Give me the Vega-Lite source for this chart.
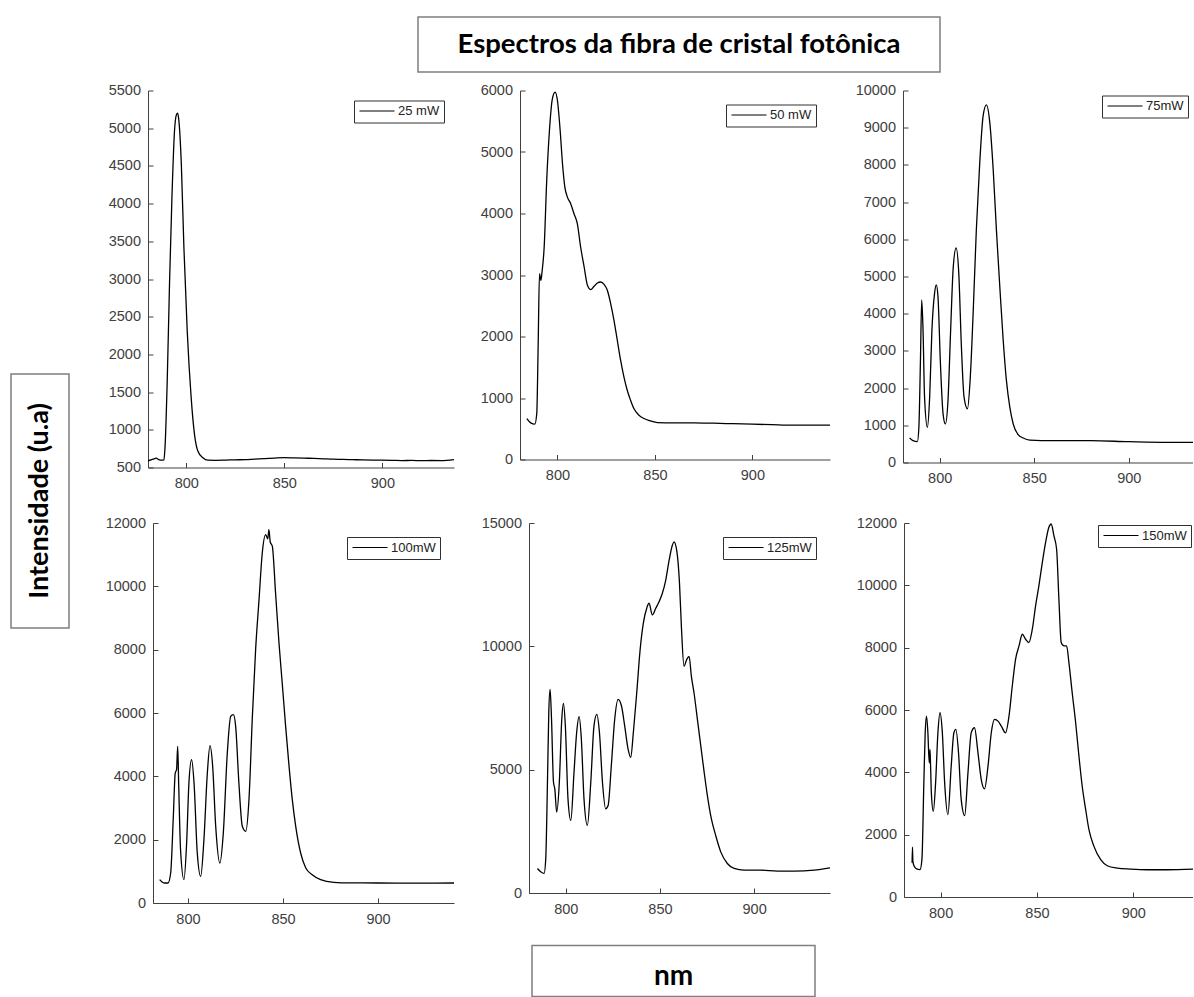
{
  "$schema": "https://vega.github.io/schema/vega-lite/v6.json",
  "padding": {"left": 10, "top": 16, "right": 0, "bottom": 0},
  "background": "white",
  "config": {
    "view": {"stroke": null},
    "axis": {"grid": false, "domainColor": "#404040", "tickColor": "#404040", "labelColor": "#404040", "labelFont": "Liberation Sans", "labelFontSize": 14.5, "tickSize": -5, "domainWidth": 1, "tickWidth": 1},
    "axisX": {"labelPadding": 14},
    "axisY": {"labelPadding": 12.5},
    "legend": {"orient": "top-right", "offset": 14, "padding": 4, "strokeColor": "#303030", "fillColor": "white", "symbolType": "M-1,0H6", "symbolSize": 100, "symbolStrokeWidth": 1.2, "labelFont": "Liberation Sans", "labelFontSize": 13, "labelColor": "#222222", "labelOffset": 27},
    "text": {"font": "Lato", "fontWeight": "bold", "color": "black"}
  },
  "datasets": {
    "p1": [
      {"x":780.5,"y":588},{"x":782,"y":600},{"x":783.5,"y":615},{"x":784.7,"y":624},{"x":786,"y":605},{"x":787.5,"y":597},{"x":788.6,"y":600},{"x":789.2,"y":780},{"x":790.3,"y":1650},{"x":791.5,"y":2970},{"x":792.7,"y":4080},{"x":794,"y":4960},{"x":795,"y":5180},{"x":795.6,"y":5200},{"x":796.2,"y":5110},{"x":797.5,"y":4520},{"x":798.8,"y":3420},{"x":800.5,"y":2310},{"x":802.5,"y":1430},{"x":804.2,"y":940},{"x":805.9,"y":720},{"x":808.5,"y":630},{"x":811,"y":597},{"x":815,"y":595},{"x":820,"y":598},{"x":825,"y":602},{"x":830,"y":605},{"x":835,"y":612},{"x":840,"y":618},{"x":845,"y":625},{"x":850,"y":630},{"x":855,"y":628},{"x":860,"y":625},{"x":865,"y":620},{"x":870,"y":615},{"x":875,"y":610},{"x":880,"y":608},{"x":885,"y":604},{"x":890,"y":600},{"x":895,"y":598},{"x":900,"y":597},{"x":905,"y":595},{"x":910,"y":592},{"x":915,"y":594},{"x":920,"y":590},{"x":925,"y":593},{"x":930,"y":592},{"x":936.5,"y":605}
    ],
    "p2": [
      {"x":784.3,"y":666},{"x":786.3,"y":596},{"x":788.4,"y":574},{"x":789.4,"y":747},{"x":790.1,"y":1830},{"x":790.8,"y":3022},{"x":791.5,"y":2913},{"x":792.1,"y":3050},{"x":793.2,"y":3455},{"x":794.5,"y":4538},{"x":795.9,"y":5350},{"x":797.4,"y":5865},{"x":798.8,"y":5973},{"x":800,"y":5837},{"x":801.4,"y":5350},{"x":802.6,"y":4809},{"x":803.8,"y":4430},{"x":805.1,"y":4267},{"x":806.8,"y":4159},{"x":808.5,"y":3996},{"x":810.2,"y":3834},{"x":811.9,"y":3455},{"x":813.7,"y":3130},{"x":815.4,"y":2832},{"x":817.1,"y":2762},{"x":818.8,"y":2816},{"x":820.5,"y":2870},{"x":822.2,"y":2886},{"x":823.9,"y":2848},{"x":825.6,"y":2751},{"x":827.3,"y":2534},{"x":829,"y":2264},{"x":830.7,"y":1939},{"x":832.4,"y":1614},{"x":834.1,"y":1343},{"x":835.8,"y":1126},{"x":837.5,"y":964},{"x":839.2,"y":829},{"x":841.8,"y":720},{"x":844.4,"y":666},{"x":847.8,"y":628},{"x":851.2,"y":601},{"x":860,"y":596},{"x":870,"y":596},{"x":880,"y":590},{"x":890,"y":582},{"x":900,"y":574},{"x":910,"y":566},{"x":920,"y":558},{"x":930,"y":558},{"x":939.8,"y":560}
    ],
    "p3": [
      {"x":784.1,"y":658},{"x":785.9,"y":586},{"x":788.2,"y":559},{"x":789,"y":946},{"x":789.8,"y":2658},{"x":790.5,"y":4369},{"x":791.2,"y":3559},{"x":792,"y":1757},{"x":793.5,"y":946},{"x":794.7,"y":1757},{"x":795.9,"y":3559},{"x":797.3,"y":4550},{"x":798.2,"y":4775},{"x":799.1,"y":4459},{"x":800.4,"y":2658},{"x":801.8,"y":1306},{"x":803,"y":1036},{"x":804.4,"y":1667},{"x":805.8,"y":3559},{"x":807.2,"y":5270},{"x":808.7,"y":5766},{"x":810.1,"y":5090},{"x":811.5,"y":3108},{"x":812.9,"y":1757},{"x":814.7,"y":1441},{"x":816.1,"y":2207},{"x":817.7,"y":4009},{"x":819.4,"y":6261},{"x":821.2,"y":8063},{"x":823,"y":9324},{"x":824.7,"y":9613},{"x":826.5,"y":9144},{"x":828.3,"y":7883},{"x":830,"y":6261},{"x":831.8,"y":4730},{"x":833.6,"y":3288},{"x":835.3,"y":2207},{"x":837.1,"y":1486},{"x":838.9,"y":1036},{"x":841.5,"y":748},{"x":844.2,"y":658},{"x":847.7,"y":604},{"x":860,"y":586},{"x":880,"y":586},{"x":900,"y":559},{"x":920,"y":541},{"x":934,"y":541}
    ],
    "p4": [
      {"x":785.1,"y":737},{"x":787.4,"y":632},{"x":789.5,"y":632},{"x":790.9,"y":947},{"x":792.3,"y":2737},{"x":793.3,"y":4105},{"x":794,"y":4210},{"x":794.6,"y":4947},{"x":795.1,"y":3789},{"x":796.1,"y":1684},{"x":797.9,"y":737},{"x":799.3,"y":1895},{"x":800.5,"y":3789},{"x":801.9,"y":4526},{"x":803.2,"y":3789},{"x":804.9,"y":1579},{"x":806.7,"y":842},{"x":808.4,"y":2000},{"x":810.2,"y":4105},{"x":811.6,"y":4968},{"x":813,"y":4316},{"x":814.6,"y":2421},{"x":816.8,"y":1263},{"x":818.6,"y":2211},{"x":820.7,"y":4737},{"x":822.5,"y":5895},{"x":823.9,"y":5947},{"x":825.1,"y":5579},{"x":826.8,"y":3789},{"x":828.6,"y":2421},{"x":830.4,"y":2263},{"x":832.1,"y":3263},{"x":833.9,"y":5895},{"x":835.6,"y":8000},{"x":837.4,"y":9579},{"x":839.1,"y":11053},{"x":840.9,"y":11632},{"x":842,"y":11500},{"x":842.6,"y":11789},{"x":843.3,"y":11400},{"x":844.4,"y":11263},{"x":846.1,"y":9789},{"x":847.9,"y":8211},{"x":849.6,"y":6947},{"x":851.4,"y":5579},{"x":853.2,"y":4316},{"x":854.9,"y":3263},{"x":856.7,"y":2421},{"x":859.3,"y":1579},{"x":862,"y":1105},{"x":865.4,"y":895},{"x":869.8,"y":737},{"x":876.8,"y":653},{"x":885,"y":635},{"x":900,"y":632},{"x":920,"y":630},{"x":940,"y":632}
    ],
    "p5": [
      {"x":785,"y":995},{"x":786.7,"y":860},{"x":788.5,"y":793},{"x":789.4,"y":1398},{"x":790.3,"y":4489},{"x":791,"y":7311},{"x":791.7,"y":8252},{"x":792.4,"y":7177},{"x":793.5,"y":4489},{"x":794.2,"y":4220},{"x":795.2,"y":3279},{"x":796.6,"y":4489},{"x":797.9,"y":7042},{"x":798.8,"y":7688},{"x":799.8,"y":6774},{"x":801.2,"y":3817},{"x":802.7,"y":2943},{"x":804.4,"y":4892},{"x":805.8,"y":6505},{"x":807.1,"y":7150},{"x":808.3,"y":6236},{"x":809.7,"y":3817},{"x":811.5,"y":2742},{"x":813.3,"y":4489},{"x":815,"y":6774},{"x":816.5,"y":7244},{"x":817.9,"y":6505},{"x":819.5,"y":4489},{"x":821.2,"y":3414},{"x":822.5,"y":3548},{"x":824.2,"y":5161},{"x":826,"y":7042},{"x":827.8,"y":7849},{"x":829.6,"y":7580},{"x":831.3,"y":6774},{"x":833.1,"y":5833},{"x":834.5,"y":5497},{"x":835.9,"y":6505},{"x":837.7,"y":8118},{"x":839.5,"y":9865},{"x":841.2,"y":10940},{"x":843,"y":11545},{"x":844.2,"y":11747},{"x":846,"y":11276},{"x":847.8,"y":11545},{"x":849.6,"y":11814},{"x":851.3,"y":12150},{"x":853.1,"y":12687},{"x":854.9,"y":13494},{"x":856.6,"y":14099},{"x":857.5,"y":14233},{"x":858.9,"y":13897},{"x":860.4,"y":12553},{"x":861.4,"y":10806},{"x":862.8,"y":9193},{"x":864.2,"y":9462},{"x":865.5,"y":9596},{"x":866.7,"y":8790},{"x":868.1,"y":8118},{"x":869.9,"y":7042},{"x":871.7,"y":5967},{"x":873.5,"y":4892},{"x":875.2,"y":3951},{"x":877.3,"y":3011},{"x":879.6,"y":2339},{"x":882.3,"y":1667},{"x":885.8,"y":1196},{"x":889.4,"y":995},{"x":894.7,"y":927},{"x":903.5,"y":927},{"x":912.4,"y":887},{"x":921.2,"y":887},{"x":931.9,"y":927},{"x":940.3,"y":1021}
    ],
    "p6": [
      {"x":785.2,"y":1100},{"x":785.4,"y":1600},{"x":785.6,"y":1150},{"x":786.2,"y":1000},{"x":787.5,"y":900},{"x":789.3,"y":880},{"x":790.3,"y":1200},{"x":791.3,"y":3661},{"x":792,"y":5269},{"x":792.7,"y":5805},{"x":793.4,"y":5269},{"x":794.1,"y":4304},{"x":794.5,"y":4733},{"x":794.8,"y":4200},{"x":795.2,"y":3340},{"x":796.2,"y":2750},{"x":797.4,"y":3661},{"x":798.6,"y":5269},{"x":799.7,"y":5912},{"x":800.9,"y":5269},{"x":802.1,"y":3661},{"x":803.8,"y":2643},{"x":805.5,"y":4197},{"x":806.9,"y":5269},{"x":807.9,"y":5376},{"x":809.3,"y":4626},{"x":810.7,"y":3125},{"x":812.5,"y":2611},{"x":814.2,"y":3983},{"x":815.9,"y":5269},{"x":817.6,"y":5430},{"x":819.4,"y":4626},{"x":821.1,"y":3768},{"x":822.8,"y":3468},{"x":824.6,"y":4197},{"x":826.3,"y":5269},{"x":828,"y":5698},{"x":829.8,"y":5644},{"x":831.5,"y":5483},{"x":833.7,"y":5269},{"x":835.5,"y":5805},{"x":837.2,"y":6770},{"x":838.9,"y":7627},{"x":840.7,"y":8056},{"x":842.4,"y":8431},{"x":844.1,"y":8270},{"x":845.8,"y":8163},{"x":847.6,"y":8592},{"x":849.3,"y":9342},{"x":851,"y":9985},{"x":852.8,"y":10735},{"x":854.5,"y":11378},{"x":856.2,"y":11861},{"x":857.4,"y":11968},{"x":858.8,"y":11593},{"x":860.2,"y":11164},{"x":861.4,"y":9556},{"x":862.6,"y":8163},{"x":864,"y":8056},{"x":865.4,"y":8056},{"x":866.6,"y":7520},{"x":868.3,"y":6555},{"x":870.1,"y":5591},{"x":871.8,"y":4519},{"x":873.5,"y":3554},{"x":875.3,"y":2804},{"x":877,"y":2161},{"x":879.6,"y":1625},{"x":883.1,"y":1196},{"x":886.5,"y":1003},{"x":891.7,"y":928},{"x":898.6,"y":896},{"x":907.3,"y":875},{"x":917.6,"y":875},{"x":931,"y":896}
    ]
  },
  "resolve": {"scale": {"color": "independent"}, "legend": {"color": "independent"}},
  "spacing": 7,
  "hconcat": [
    {
      "spacing": 0,
      "resolve": {"scale": {"color": "independent"}, "legend": {"color": "independent"}},
      "vconcat": [
        {"width": 58, "height": 356, "data": {"values": [{}]}, "mark": {"type": "text", "text": " ", "fontSize": 1}},
        {"width": 58, "height": 254, "view": {"stroke": "#7f7f7f", "strokeWidth": 1.5},
         "data": {"values": [{"t": "Intensidade (u.a)"}]},
         "mark": {"type": "text", "angle": 270, "fontSize": 27, "align": "center", "baseline": "middle"},
         "encoding": {"text": {"field": "t", "type": "nominal"}}}
      ]
    },
    {
      "spacing": 9.5,
      "resolve": {"scale": {"color": "independent"}, "legend": {"color": "independent"}},
      "vconcat": [
        {
          "spacing": 0,
          "hconcat": [
            {"width": 340, "height": 55, "data": {"values": [{}]}, "mark": {"type": "text", "text": " ", "fontSize": 1}},
            {"width": 522, "height": 55, "view": {"stroke": "#7f7f7f", "strokeWidth": 1.5},
             "data": {"values": [{"t": "Espectros da fibra de cristal fotônica"}]},
             "mark": {"type": "text", "fontSize": 27.5, "align": "center", "baseline": "middle"},
             "encoding": {"text": {"field": "t", "type": "nominal"}}}
          ]
        },
        {
          "spacing": 16,
          "resolve": {"scale": {"color": "independent"}, "legend": {"color": "independent"}},
          "hconcat": [
            {"width": 5, "height": 1, "data": {"values": [{}]}, "mark": {"type": "text", "text": " ", "fontSize": 1}},
            {
              "width": 306, "height": 377,
              "data": {"name": "p1"},
              "mark": {"type": "line", "strokeWidth": 1.3, "clip": true, "interpolate": "monotone"},
              "encoding": {
                "x": {"field": "x", "type": "quantitative", "scale": {"domain": [780.5, 936.5], "nice": false, "zero": false}, "axis": {"title": null, "values": [800, 850, 900], "minExtent": 38}},
                "y": {"field": "y", "type": "quantitative", "scale": {"domain": [500, 5500], "nice": false, "zero": false}, "axis": {"title": null, "format": "d", "values": [500, 1000, 1500, 2000, 2500, 3000, 3500, 4000, 4500, 5000, 5500], "minExtent": 50, "maxExtent": 50}},
                "color": {"datum": "25 mW", "scale": {"range": ["black"]}, "legend": {"title": null, "offset": 10}}
              }
            },
            {
              "spacing": 73,
              "bounds": "flush",
              "resolve": {"scale": {"color": "independent"}, "legend": {"color": "independent"}},
              "hconcat": [
                {
                  "width": 310, "height": 369,
                  "data": {"name": "p2"},
                  "mark": {"type": "line", "strokeWidth": 1.3, "clip": true, "interpolate": "monotone"},
                  "encoding": {
                    "x": {"field": "x", "type": "quantitative", "scale": {"domain": [780.8, 939.8], "nice": false, "zero": false}, "axis": {"title": null, "values": [800, 850, 900]}},
                    "y": {"field": "y", "type": "quantitative", "scale": {"domain": [0, 6000], "nice": false}, "axis": {"title": null, "format": "d", "values": [0, 1000, 2000, 3000, 4000, 5000, 6000], "minExtent": 50, "maxExtent": 50}},
                    "color": {"datum": "50 mW", "scale": {"range": ["black"]}, "legend": {"title": null, "offset": 14}}
                  }
                },
                {
                  "width": 290, "height": 372,
                  "data": {"name": "p3"},
                  "mark": {"type": "line", "strokeWidth": 1.3, "clip": true, "interpolate": "monotone"},
                  "encoding": {
                    "x": {"field": "x", "type": "quantitative", "scale": {"domain": [780.6, 934], "nice": false, "zero": false}, "axis": {"title": null, "values": [800, 850, 900]}},
                    "y": {"field": "y", "type": "quantitative", "scale": {"domain": [0, 10000], "nice": false}, "axis": {"title": null, "format": "d", "values": [0, 1000, 2000, 3000, 4000, 5000, 6000, 7000, 8000, 9000, 10000], "minExtent": 55, "maxExtent": 55}},
                    "color": {"datum": "75mW", "scale": {"range": ["black"]}, "legend": {"title": null, "offset": 5}}
                  }
                }
              ]
            }
          ]
        },
        {
          "spacing": 20,
          "resolve": {"scale": {"color": "independent"}, "legend": {"color": "independent"}},
          "hconcat": [
            {"width": 1, "height": 1, "data": {"values": [{}]}, "mark": {"type": "text", "text": " ", "fontSize": 1}},
            {
              "width": 301, "height": 380,
              "data": {"name": "p4"},
              "mark": {"type": "line", "strokeWidth": 1.3, "clip": true, "interpolate": "monotone"},
              "encoding": {
                "x": {"field": "x", "type": "quantitative", "scale": {"domain": [781.6, 940], "nice": false, "zero": false}, "axis": {"title": null, "values": [800, 850, 900], "minExtent": 31.5}},
                "y": {"field": "y", "type": "quantitative", "scale": {"domain": [0, 12000], "nice": false}, "axis": {"title": null, "format": "d", "values": [0, 2000, 4000, 6000, 8000, 10000, 12000], "minExtent": 55, "maxExtent": 55}},
                "color": {"datum": "100mW", "scale": {"range": ["black"]}, "legend": {"title": null, "offset": 14}}
              }
            },
            {
              "spacing": 74,
              "bounds": "flush",
              "resolve": {"scale": {"color": "independent"}, "legend": {"color": "independent"}},
              "hconcat": [
                {
                  "width": 301, "height": 370,
                  "data": {"name": "p5"},
                  "mark": {"type": "line", "strokeWidth": 1.3, "clip": true, "interpolate": "monotone"},
                  "encoding": {
                    "x": {"field": "x", "type": "quantitative", "scale": {"domain": [780.5, 940.3], "nice": false, "zero": false}, "axis": {"title": null, "values": [800, 850, 900]}},
                    "y": {"field": "y", "type": "quantitative", "scale": {"domain": [0, 15000], "nice": false}, "axis": {"title": null, "format": "d", "values": [0, 5000, 10000, 15000], "minExtent": 55, "maxExtent": 55}},
                    "color": {"datum": "125mW", "scale": {"range": ["black"]}, "legend": {"title": null, "offset": 14}}
                  }
                },
                {
                  "width": 289, "height": 374,
                  "data": {"name": "p6"},
                  "mark": {"type": "line", "strokeWidth": 1.3, "clip": true, "interpolate": "monotone"},
                  "encoding": {
                    "x": {"field": "x", "type": "quantitative", "scale": {"domain": [781, 931], "nice": false, "zero": false}, "axis": {"title": null, "values": [800, 850, 900]}},
                    "y": {"field": "y", "type": "quantitative", "scale": {"domain": [0, 12000], "nice": false}, "axis": {"title": null, "format": "d", "values": [0, 2000, 4000, 6000, 8000, 10000, 12000], "minExtent": 55, "maxExtent": 55}},
                    "color": {"datum": "150mW", "scale": {"range": ["black"]}, "legend": {"title": null, "offset": 2}}
                  }
                }
              ]
            }
          ]
        },
        {
          "spacing": 0,
          "hconcat": [
            {"width": 454, "height": 51, "data": {"values": [{}]}, "mark": {"type": "text", "text": " ", "fontSize": 1}},
            {"width": 283, "height": 51, "view": {"stroke": "#7f7f7f", "strokeWidth": 1.5},
             "data": {"values": [{"t": "nm"}]},
             "mark": {"type": "text", "fontSize": 28, "align": "center", "baseline": "middle", "dy": 6},
             "encoding": {"text": {"field": "t", "type": "nominal"}}}
          ]
        }
      ]
    }
  ]
}
